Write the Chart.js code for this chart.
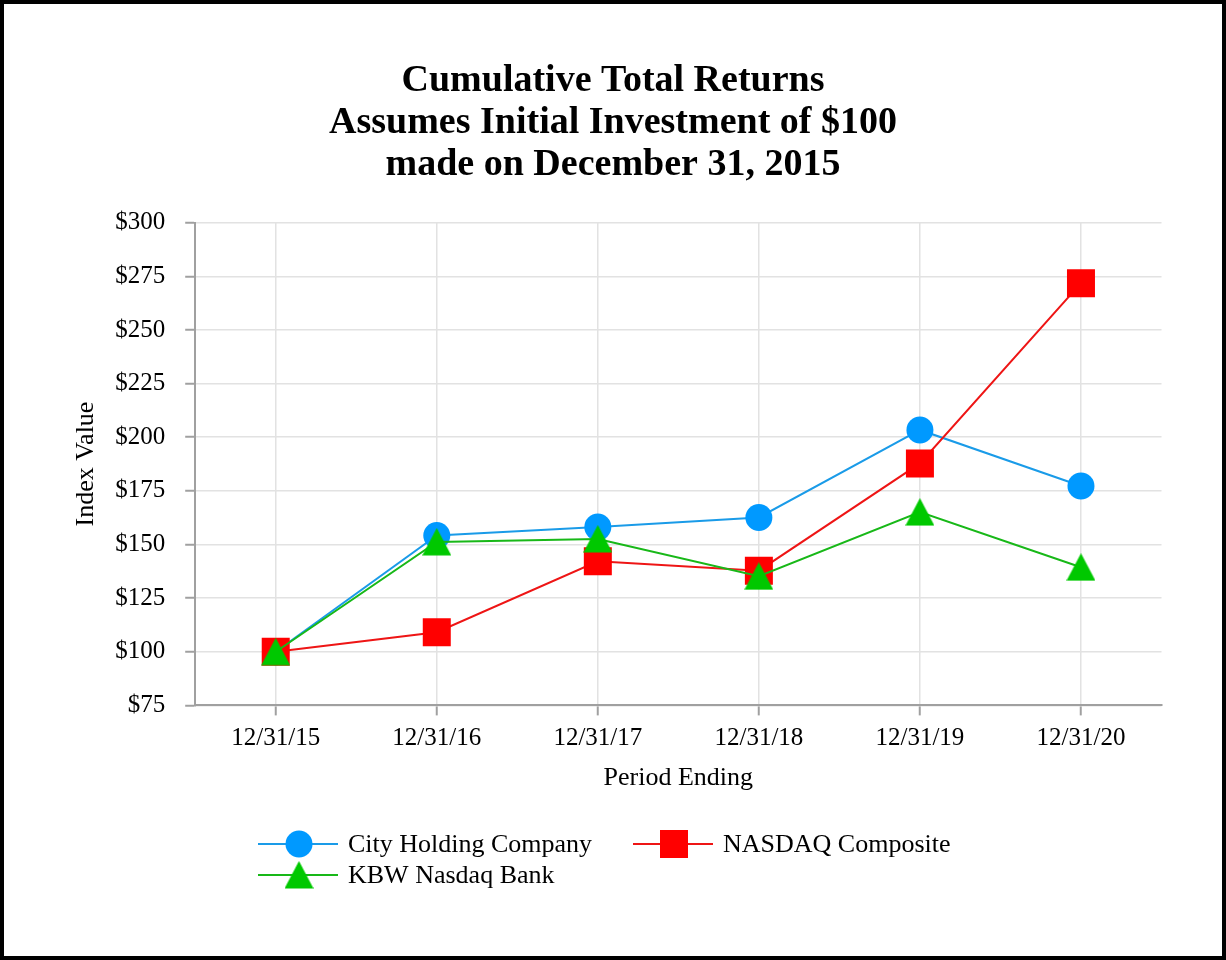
<!DOCTYPE html>
<html>
<head>
<meta charset="utf-8">
<script src="https://cdn.jsdelivr.net/npm/chart.js@4.4.1/dist/chart.umd.min.js"></script>
<style>
  html, body { margin: 0; padding: 0; background: #fff; }
  #frame { position: absolute; left: 0; top: 0; width: 1226px; height: 960px; box-sizing: border-box; border: 4px solid #000; background: #fff; }
  #wrap { position: relative; width: 1218px; height: 952px; }
</style>
</head>
<body>
<div id="frame"><div id="wrap"><canvas id="chart"></canvas></div></div>
<script>
const periods = ['12/31/15','12/31/16','12/31/17','12/31/18','12/31/19','12/31/20'];
const cityHolding = [100, 154.2, 158.1, 162.6, 203.4, 177.3];
const nasdaqComposite = [100, 109.1, 142.2, 137.8, 187.8, 271.8];
const kbwBank = [100, 151.2, 152.6, 135.2, 165.1, 139.4];
const titleLines = ['Cumulative Total Returns', 'Assumes Initial Investment of $100', 'made on December 31, 2015'];

const serif = "'Liberation Serif', 'Times New Roman', serif";

// triangle marker as a small canvas so it is as tall as it is wide
function triangleMarker(color){
  const c = document.createElement('canvas');
  c.width = 29; c.height = 28;
  const g = c.getContext('2d');
  g.fillStyle = color;
  g.beginPath();
  g.moveTo(14.5, 0);
  g.lineTo(29, 27.5);
  g.lineTo(0, 27.5);
  g.closePath();
  g.fill();
  return c;
}

const legendSpots = [{x:254, y:840}, {x:629, y:840}, {x:254, y:871}];

// title centred on the whole frame, legend in two columns under the axis
const titleAndLegend = {
  id: 'titleAndLegend',
  afterDraw(chart){
    const ctx = chart.ctx;
    ctx.save();
    ctx.fillStyle = '#000';
    ctx.font = 'bold 38px ' + serif;
    ctx.textAlign = 'center';
    ctx.textBaseline = 'middle';
    titleLines.forEach((t, i) => ctx.fillText(t, chart.width / 2, 77 + i * 42));
    ctx.restore();

    chart.data.datasets.forEach((ds, i) => {
      const p = legendSpots[i];
      ctx.save();
      ctx.strokeStyle = ds.borderColor;
      ctx.lineWidth = 2;
      ctx.beginPath();
      ctx.moveTo(p.x, p.y);
      ctx.lineTo(p.x + 80, p.y);
      ctx.stroke();
      ctx.fillStyle = ds.pointBackgroundColor;
      Chart.helpers.drawPoint(ctx, {pointStyle: ds.pointStyle, radius: ds.pointRadius, rotation: 0, borderWidth: 0}, p.x + 41, p.y);
      ctx.fillStyle = '#000';
      ctx.font = '26px ' + serif;
      ctx.textBaseline = 'middle';
      ctx.textAlign = 'left';
      ctx.fillText(ds.label, p.x + 90, p.y + 1);
      ctx.restore();
    });
  }
};

Chart.defaults.color = '#000';
Chart.defaults.font.family = serif;

new Chart(document.getElementById('chart'), {
  type: 'line',
  data: {
    labels: periods,
    datasets: [
      { label: 'City Holding Company', data: cityHolding, borderColor: '#1a9be8', pointBackgroundColor: '#0099ff',
        pointBorderWidth: 0, pointStyle: 'circle', pointRadius: 13.5, borderWidth: 2, order: 3 },
      { label: 'NASDAQ Composite', data: nasdaqComposite, borderColor: '#ee1515', pointBackgroundColor: '#ff0000',
        pointBorderWidth: 0, pointStyle: 'rect', pointRadius: 19.8, borderWidth: 2, order: 2 },
      { label: 'KBW Nasdaq Bank', data: kbwBank, borderColor: '#18b818', pointBackgroundColor: '#00c800',
        pointBorderWidth: 0, pointStyle: triangleMarker('#00c800'), pointRadius: 14, borderWidth: 2, order: 1 }
    ]
  },
  options: {
    responsive: true,
    maintainAspectRatio: false,
    animation: false,
    layout: { padding: { left: 0, right: 60.5, top: 218.7, bottom: 162 } },
    elements: { line: { tension: 0 } },
    plugins: {
      legend: { display: false },
      tooltip: { enabled: false },
      title: { display: false }
    },
    scales: {
      x: {
        offset: true,
        grid: { offset: false, color: '#e2e2e2', lineWidth: 1.5, tickColor: '#a0a0a0', tickWidth: 2, tickLength: 10 },
        border: { color: '#a0a0a0', width: 2 },
        ticks: { font: { size: 25, family: serif }, padding: 8, color: '#000', maxRotation: 0 },
        title: { display: true, text: 'Period Ending', font: { size: 26, family: serif }, color: '#000', padding: { top: 0, bottom: 0 } },
        afterFit(scale){ scale.height = 88.6; }
      },
      y: {
        min: 75,
        max: 300,
        grid: { color: '#e2e2e2', lineWidth: 1.5, tickColor: '#a0a0a0', tickWidth: 2, tickLength: 10 },
        border: { color: '#a0a0a0', width: 2 },
        ticks: { stepSize: 25, font: { size: 25, family: serif }, padding: 20, color: '#000', callback: v => '$' + v },
        title: { display: true, text: 'Index Value', font: { size: 26, family: serif }, color: '#000', padding: { top: 67, bottom: 0 } },
        afterFit(scale){ scale.width = 191.2; }
      }
    }
  },
  plugins: [titleAndLegend]
});
</script>
</body>
</html>
